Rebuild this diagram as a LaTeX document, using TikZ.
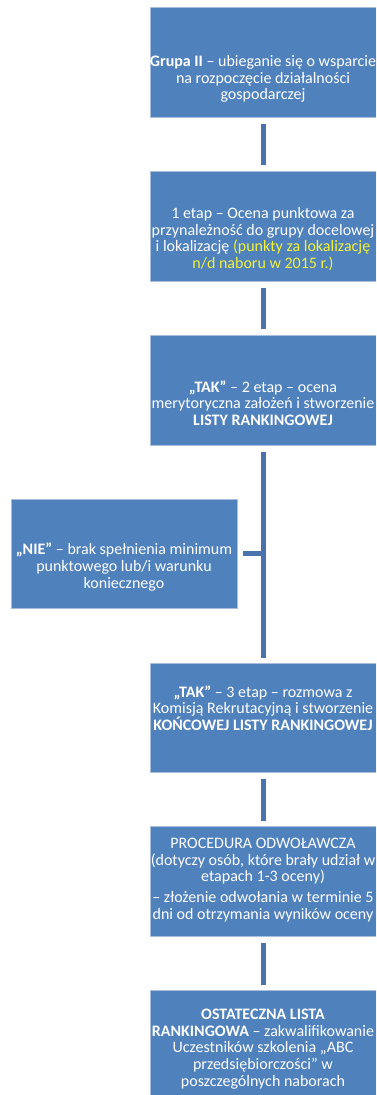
\documentclass[tikz,border=0pt]{standalone}
\usepackage{fontspec}
\setmainfont{Carlito}
\definecolor{boxblue}{HTML}{4F81BD}
\definecolor{boxedge}{HTML}{A9BEDD}
\definecolor{linkblue}{HTML}{4A72AC}
\definecolor{hl}{HTML}{F2F23A}
\begin{document}
\begin{tikzpicture}[x=1pt,y=-1pt,
  box/.style={rectangle, fill=boxblue, draw=boxedge, line width=0.6pt, inner sep=0pt, anchor=north west, minimum width=226pt},
  link/.style={draw=linkblue, line width=5pt, line cap=butt},
  txt/.style={text=white, font=\fontsize{16}{16.7}\selectfont, align=center, inner sep=0pt}]
\useasboundingbox (0,0) rectangle (376,1095);
\begin{scope}
\clip (0,0) rectangle (376,1095);
\node[box, minimum height=110pt] (b1) at (150,7) {};
\node[box, minimum height=110pt] (b2) at (150,171) {};
\node[box, minimum height=110pt] (b3) at (150,335) {};
\node[box, minimum height=109pt] (nie) at (11,499) {};
\node[box, minimum height=109pt] (b5) at (150,663) {};
\node[box, minimum height=110pt] (b6) at (150,826) {};
\node[box, minimum height=125pt] (b7) at (150,990) {};

\draw[link] ([yshift=-6pt]b1.south) -- ([yshift=6pt]b2.north);
\draw[link] ([yshift=-6pt]b2.south) -- ([yshift=6pt]b3.north);
\draw[link] ([yshift=-6pt]b3.south) -- ([yshift=5pt]b5.north);
\draw[link] ([xshift=5pt]nie.east) -- (nie.east -| b3.south);
\draw[link] ([yshift=-6pt]b5.south) -- ([yshift=5pt]b6.north);
\draw[link] ([yshift=-6pt]b6.south) -- ([yshift=5pt]b7.north);

\node[txt] (t1) at (263,79) {\textbf{Grupa II} – ubieganie się o wsparcie\\na rozpoczęcie działalności\\gospodarczej};
\node[txt] (t2) at (263,239) {1 etap – Ocena punktowa za\\przynależność do grupy docelowej\\i lokalizację \textcolor{hl}{(punkty za lokalizację}\\\textcolor{hl}{n/d naboru w 2015 r.)}};
\node[txt] (t3) at (263,403) {\textbf{„TAK”} – 2 etap – ocena\\merytoryczna założeń i stworzenie\\\textbf{LISTY RANKINGOWEJ}};
\node[txt] (t4) at (124,567) {\textbf{„NIE”} – brak spełnienia minimum\\punktowego lub/i warunku\\koniecznego};
\node[txt] (t5) at (263,708) {\textbf{„TAK”} – 3 etap – rozmowa z\\Komisją Rekrutacyjną i stworzenie\\\textbf{KOŃCOWEJ LISTY RANKINGOWEJ}};
\node[txt] (t6) at (263,880) {PROCEDURA ODWOŁAWCZA\\(dotyczy osób, które brały udział w\\etapach 1-3 oceny)\\[4pt]– złożenie odwołania w terminie 5\\dni od otrzymania wyników oceny};
\node[txt] (t7) at (263,1049) {\textbf{OSTATECZNA LISTA}\\\textbf{RANKINGOWA} – zakwalifikowanie\\Uczestników szkolenia „ABC\\przedsiębiorczości” w\\poszczególnych naborach};
\end{scope}
\end{tikzpicture}
\end{document}
